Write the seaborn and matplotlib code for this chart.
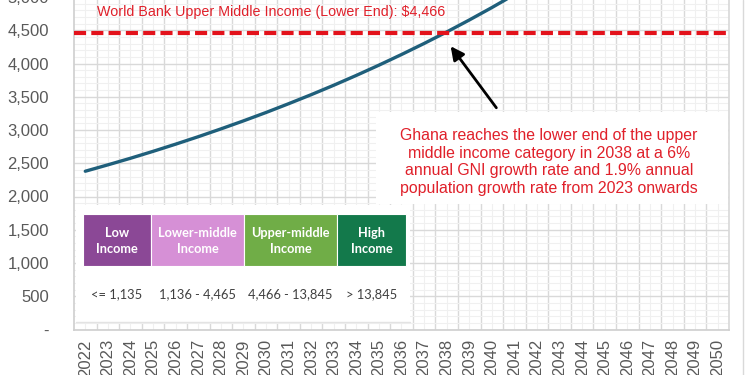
import numpy as np
import pandas as pd
import matplotlib
matplotlib.use("Agg")
import matplotlib.pyplot as plt
import seaborn as sns
from matplotlib.patches import Rectangle
from matplotlib.lines import Line2D

# ---------------- data ----------------
years = list(range(2022, 2051))
gni_years = list(range(2022, 2043))
gni_per_capita = [2380, 2476, 2575, 2679, 2787, 2899, 3016, 3137, 3263, 3395,
                  3531, 3673, 3821, 3975, 4135, 4301, 4474, 4654, 4841, 5036, 5238]
threshold = 4466
threshold_label = "World Bank Upper Middle Income (Lower End): \\$4,466"
note_text = ("Ghana reaches the lower end of the upper\n"
             "middle income category in 2038 at a 6%\n"
             "annual GNI growth rate and 1.9% annual\n"
             "population growth rate from 2023 onwards")
categories = ["Low\nIncome", "Lower-middle\nIncome", "Upper-middle\nIncome", "High\nIncome"]
ranges = ["<= 1,135", "1,136 - 4,465", "4,466 - 13,845", "> 13,845"]
cat_colors = ["#8b4896", "#d690d6", "#70ad47", "#13794b"]
yticks = list(range(0, 5001, 500))
ytick_labels = ["-"] + [f"{v:,}" for v in yticks[1:]]

df = pd.DataFrame({"year": gni_years, "gni": gni_per_capita})

# ---------------- figure ----------------
sns.set_theme(style="white")
plt.rcParams["font.family"] = ["Liberation Sans", "DejaVu Sans"]

W, H = 750, 375
fig = plt.figure(figsize=(7.5, 3.75), dpi=100)
fig.patch.set_facecolor("white")
AX_L, AX_R, AX_B, AX_T = 74, 729, 329.5, -3
ax = fig.add_axes([AX_L / W, (H - AX_B) / H, (AX_R - AX_L) / W, (AX_B - AX_T) / H])
ax.set_facecolor("white")


def fx(px):
    return (px - AX_L) / (AX_R - AX_L)


def fy(py):
    return (AX_B - py) / (AX_B - AX_T)


sns.lineplot(data=df, x="year", y="gni", ax=ax, color="#1f5f7b", lw=2.4, zorder=5)

ax.axhline(threshold, color="#e3121b", lw=3.0, dashes=(2.9, 1.25), zorder=6)

ax.set_xlim(years[0] - 0.5, years[-1] + 0.5)
ax.set_ylim(0, 5000)

ax.set_xticks(years)
ax.set_xticklabels([str(y) for y in years], rotation=90, fontsize=12, color="#595959")
ax.set_xticks([y + 0.5 for y in years[:-1]], minor=True)
ax.set_yticks(yticks)
ax.set_yticklabels(ytick_labels, fontsize=12, color="#595959")
ax.set_yticks(list(range(0, 5001, 100)), minor=True)

ax.grid(which="major", axis="y", color="#d9d9d9", lw=1.0, zorder=0)
ax.grid(which="minor", axis="y", color="#f0f0f0", lw=0.8, zorder=0)
ax.grid(which="minor", axis="x", color="#d9d9d9", lw=1.0, zorder=0)
ax.grid(which="major", axis="x", color="#f0f0f0", lw=0.8, zorder=0)
ax.set_axisbelow(True)

ax.tick_params(axis="x", which="major", length=0, pad=7)
ax.tick_params(axis="x", which="minor", length=4, direction="in", color="#d0d0d0")
ax.tick_params(axis="y", which="both", length=0, pad=18)
for lab in ax.get_yticklabels():
    lab.set_horizontalalignment("right")

ax.set_xlabel("")
ax.set_ylabel("")
ax.spines["top"].set_visible(False)
ax.spines["left"].set_color("#d0d0d0")
ax.spines["bottom"].set_color("#d0d0d0")
ax.spines["right"].set_color("#d9d9d9")

# threshold label
ax.text(fx(97), fy(12), threshold_label, transform=ax.transAxes, ha="left", va="center",
        fontsize=10.3, color="#e0202a", zorder=7)

# annotation box
ax.add_patch(Rectangle((fx(376), fy(204)), fx(728) - fx(376), fy(112) - fy(204),
                       transform=ax.transAxes, facecolor="white", edgecolor="none", zorder=7))
ax.text(fx(549), fy(162), note_text, transform=ax.transAxes, ha="center", va="center",
        fontsize=11.4, color="#e0202a", linespacing=1.22, zorder=8)
ax.annotate("", xy=(fx(449), fy(44)), xytext=(fx(498), fy(110)),
            xycoords="axes fraction", textcoords="axes fraction",
            arrowprops=dict(arrowstyle="-|>", color="black", lw=2.0, mutation_scale=20),
            zorder=9)

# income category table
ax.add_patch(Rectangle((fx(76), fy(322)), fx(410) - fx(76), fy(205) - fy(322),
                       transform=ax.transAxes, facecolor="white", edgecolor="none", zorder=3))
ax.add_line(Line2D([fx(76), fx(410)], [fy(322), fy(322)], transform=ax.transAxes,
                   color="#e3e3e3", lw=1.0, zorder=4))
edges = [83, 151, 244, 337, 406]
for i, (cat, rng, col) in enumerate(zip(categories, ranges, cat_colors)):
    x0, x1 = edges[i], edges[i + 1]
    ax.add_patch(Rectangle((fx(x0), fy(265.5)), fx(x1) - fx(x0), fy(214) - fy(265.5),
                           transform=ax.transAxes, facecolor=col, edgecolor="white",
                           lw=0.8, zorder=4))
    cx = fx((x0 + x1) / 2)
    ax.text(cx, fy(241), cat, transform=ax.transAxes, ha="center", va="center",
            fontsize=9.2, fontweight="bold", color="white", family="Lato",
            linespacing=1.45, zorder=5)
    ax.text(cx, fy(294.5), rng, transform=ax.transAxes, ha="center", va="center",
            fontsize=9.3, color="#404040", family="Lato", zorder=5)

# outer chart border
fig.add_artist(Line2D([743 / W, 743 / W], [0, 1], color="#d9d9d9", lw=1.0))

fig.savefig("out.png", dpi=100, facecolor="white")
